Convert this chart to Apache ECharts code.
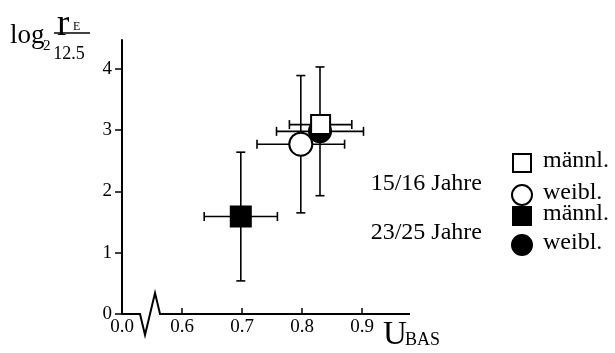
<!DOCTYPE html>
<html>
<head>
<meta charset="utf-8">
<script src="https://cdn.jsdelivr.net/npm/echarts@6/dist/echarts.min.js"></script>
<style>html,body{margin:0;padding:0;background:#fff;}#c{width:615px;height:353px;}</style>
</head>
<body>
<div id="c"></div>
<script>
// ---- data ----
const groupNames = ['15/16 Jahre', '15/16 Jahre', '23/25 Jahre', '23/25 Jahre'];
const sexNames = ['männl.', 'weibl.', 'männl.', 'weibl.'];
const uMean = [0.831, 0.798, 0.698, 0.830];
const uErr  = [0.052, 0.073, 0.061, 0.0725];
const rMean = [3.09, 2.77, 1.59, 2.98];
const rErr  = [0, 1.12, 1.05, 1.05];
const xTickValues = [0.6, 0.7, 0.8, 0.9];
const xLabelValues = [0.5, 0.6, 0.7, 0.8, 0.9];
const xLabelTexts = ['0.0', '0.6', '0.7', '0.8', '0.9'];
const yTickValues = [0, 1, 2, 3, 4];

const FONT = '"Liberation Serif", "DejaVu Serif", serif';
const chart = echarts.init(document.getElementById('c'), null, {renderer: 'canvas'});

const errData = uMean.map((u, i) => [u, rMean[i], uErr[i], rErr[i]]);
const CAP = 4.5;

function renderErr(params, api) {
  const x = api.value(0), y = api.value(1), ex = api.value(2), ey = api.value(3);
  const st = {stroke: '#000', lineWidth: 1.6};
  const ch = [];
  if (ey > 0) {
    const a = api.coord([x, y + ey]), b = api.coord([x, y - ey]);
    ch.push({type: 'line', shape: {x1: a[0], y1: a[1], x2: b[0], y2: b[1]}, style: st});
    ch.push({type: 'line', shape: {x1: a[0] - CAP, y1: a[1], x2: a[0] + CAP, y2: a[1]}, style: st});
    ch.push({type: 'line', shape: {x1: b[0] - CAP, y1: b[1], x2: b[0] + CAP, y2: b[1]}, style: st});
  }
  if (ex > 0) {
    const a = api.coord([x - ex, y]), b = api.coord([x + ex, y]);
    ch.push({type: 'line', shape: {x1: a[0], y1: a[1], x2: b[0], y2: b[1]}, style: st});
    ch.push({type: 'line', shape: {x1: a[0], y1: a[1] - CAP, x2: a[0], y2: a[1] + CAP}, style: st});
    ch.push({type: 'line', shape: {x1: b[0], y1: b[1] - CAP, x2: b[0], y2: b[1] + CAP}, style: st});
  }
  return {type: 'group', children: ch};
}

const markerStyles = [
  {symbol: 'rect', size: 19, fill: '#fff', z: 10},
  {symbol: 'circle', size: 23, fill: '#fff', z: 8},
  {symbol: 'rect', size: 20, fill: '#000', z: 9},
  {symbol: 'circle', size: 22, fill: '#000', z: 7}
];

const series = [{
  type: 'custom', name: 'err', renderItem: renderErr, data: errData,
  encode: {x: 0, y: 1}, z: 3, clip: false, silent: true
}];
markerStyles.forEach((m, i) => {
  series.push({
    type: 'scatter', name: groupNames[i] + ' ' + sexNames[i],
    data: [[uMean[i], rMean[i]]], symbol: m.symbol, symbolSize: m.size, z: m.z,
    itemStyle: {color: m.fill, borderColor: '#000', borderWidth: 2, opacity: 1},
    emphasis: {disabled: true}, silent: true
  });
});

chart.setOption({
  animation: false,
  backgroundColor: '#fff',
  grid: {left: 122, top: 40, right: 205, bottom: 39, containLabel: false},
  xAxis: {
    type: 'value', min: 0.5, max: 0.98,
    axisLine: {show: false},
    splitLine: {show: false},
    axisTick: {show: true, inside: true, length: 6, lineStyle: {color: '#000', width: 1.5}, customValues: xTickValues},
    axisLabel: {
      show: true, color: '#000', fontFamily: FONT, fontSize: 19, margin: 4,
      customValues: xLabelValues,
      formatter: v => xLabelTexts[xLabelValues.findIndex(t => Math.abs(t - v) < 1e-6)]
    }
  },
  yAxis: {
    type: 'value', min: 0, max: 4.47,
    axisLine: {show: true, lineStyle: {color: '#000', width: 2}},
    splitLine: {show: false},
    axisTick: {show: true, length: 7, lineStyle: {color: '#000', width: 1.5}, customValues: yTickValues},
    axisLabel: {show: true, color: '#000', fontFamily: FONT, fontSize: 19, margin: 10, customValues: yTickValues}
  },
  series: series
});

// x axis line with break zigzag (computed via axis scale)
const p0 = chart.convertToPixel({gridIndex: 0}, [0.5, 0]);
const pEnd = chart.convertToPixel({gridIndex: 0}, [0.98, 0]);
const pb = chart.convertToPixel({gridIndex: 0}, [0.5467, 0]);
const axisY = p0[1];
const graphics = [
  {type: 'polyline', z: 50, silent: true,
   shape: {points: [[p0[0], axisY], [pb[0] - 10, axisY], [pb[0] - 5, axisY + 21], [pb[0] + 5, axisY - 21], [pb[0] + 10, axisY], [pEnd[0], axisY]]},
   style: {stroke: '#000', lineWidth: 2, fill: null}}
];

// Axis titles
graphics.push(
  {type: 'text', silent: true, style: {x: 10, y: 49, text: 'log', font: '27px ' + FONT, fill: '#000', verticalAlign: 'bottom'}},
  {type: 'text', silent: true, style: {x: 43, y: 46, text: '2', font: '15px ' + FONT, fill: '#000', verticalAlign: 'middle'}},
  {type: 'line', silent: true, shape: {x1: 54, y1: 33, x2: 90, y2: 33}, style: {stroke: '#000', lineWidth: 1.3}},
  {type: 'text', silent: true, style: {x: 57, y: 44, text: 'r', font: '37px ' + FONT, fill: '#000', verticalAlign: 'bottom'}},
  {type: 'text', silent: true, style: {x: 73, y: 33, text: 'E', font: '12px ' + FONT, fill: '#000', verticalAlign: 'bottom'}},
  {type: 'text', silent: true, style: {x: 69, y: 54, text: '12.5', font: '18px ' + FONT, fill: '#000', align: 'center', verticalAlign: 'middle'}},
  {type: 'text', silent: true, style: {x: 383, y: 352, text: 'U', font: '33px ' + FONT, fill: '#000', verticalAlign: 'bottom'}},
  {type: 'text', silent: true, style: {x: 405, y: 349, text: 'BAS', font: '18px ' + FONT, fill: '#000', verticalAlign: 'bottom'}}
);

// Legend
const legY = [163, 195, 216, 245];
const legX = 522;
markerStyles.forEach((m, i) => {
  const s = 18;
  if (m.symbol === 'rect') {
    graphics.push({type: 'rect', silent: true, shape: {x: legX - s / 2, y: legY[i] - s / 2, width: s, height: s},
      style: {fill: m.fill, stroke: '#000', lineWidth: 2}});
  } else {
    graphics.push({type: 'circle', silent: true, shape: {cx: legX, cy: legY[i], r: s / 2 + 1},
      style: {fill: m.fill, stroke: '#000', lineWidth: 2}});
  }
  graphics.push({type: 'text', silent: true, style: {x: 543, y: legY[i] - 2, text: sexNames[i], font: '24px ' + FONT, fill: '#000', verticalAlign: 'middle'}});
});
graphics.push(
  {type: 'text', silent: true, style: {x: 482, y: 184, text: groupNames[0], font: '24px ' + FONT, fill: '#000', align: 'right', verticalAlign: 'middle'}},
  {type: 'text', silent: true, style: {x: 482, y: 233, text: groupNames[2], font: '24px ' + FONT, fill: '#000', align: 'right', verticalAlign: 'middle'}}
);

chart.setOption({graphic: {elements: graphics}});
</script>
</body>
</html>
